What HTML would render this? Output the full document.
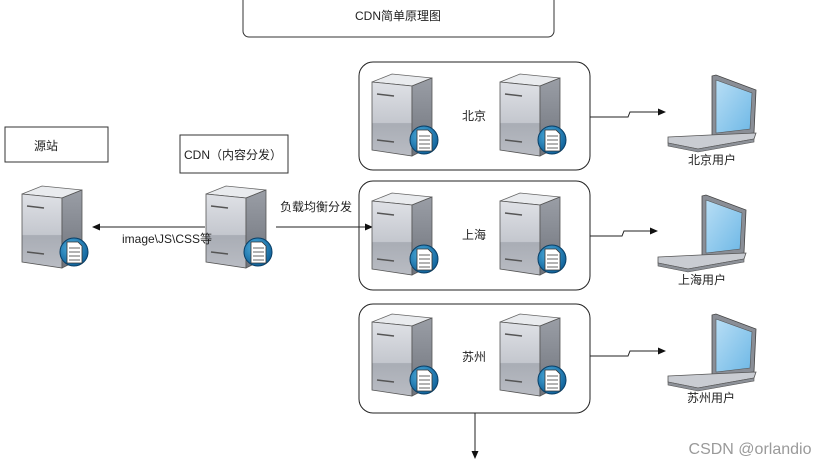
<!DOCTYPE html>
<html><head><meta charset="utf-8"><style>
html,body{margin:0;padding:0;background:#fff;}
svg text{font-family:"Liberation Sans","Noto Sans CJK SC",sans-serif;font-size:12px;fill:#222;}
</style></head><body>
<svg width="836" height="464" viewBox="0 0 836 464" xmlns="http://www.w3.org/2000/svg">
<defs>
<linearGradient id="fr" x1="0" y1="0" x2="0" y2="1"><stop offset="0" stop-color="#dfe1e6"/><stop offset="0.55" stop-color="#c4c7ce"/><stop offset="0.56" stop-color="#a9adb5"/><stop offset="1" stop-color="#b9bcc3"/></linearGradient>
<linearGradient id="sd" x1="0" y1="0" x2="0" y2="1"><stop offset="0" stop-color="#9a9ea6"/><stop offset="1" stop-color="#6f737b"/></linearGradient>
<radialGradient id="bd" cx="0.4" cy="0.35" r="0.7"><stop offset="0" stop-color="#4fb0e0"/><stop offset="1" stop-color="#0d5d95"/></radialGradient>
<linearGradient id="scr" x1="0" y1="0" x2="1" y2="1"><stop offset="0" stop-color="#b8def5"/><stop offset="1" stop-color="#6eb8e6"/></linearGradient>
<g id="srv">
<polygon points="0,8 20,0 60,4 40,12" fill="#e9ebee" stroke="#666" stroke-width="0.8"/>
<polygon points="0,8 40,12 40,82 0,76" fill="url(#fr)" stroke="#555" stroke-width="0.8"/>
<polygon points="40,12 60,4 60,72 40,82" fill="url(#sd)" stroke="#555" stroke-width="0.8"/>
<line x1="5" y1="20" x2="22" y2="22" stroke="#555" stroke-width="1.5"/>
<line x1="5" y1="66" x2="22" y2="68" stroke="#555" stroke-width="1.5"/>
<circle cx="52" cy="66" r="14" fill="url(#bd)" stroke="#0a3f66" stroke-width="1"/>
<polygon points="45,56 56,56 60,60 60,77 45,77" fill="#fff" stroke="#333" stroke-width="0.8"/>
<line x1="47" y1="62" x2="58" y2="62" stroke="#666"/><line x1="47" y1="66" x2="58" y2="66" stroke="#666"/><line x1="47" y1="70" x2="58" y2="70" stroke="#666"/><line x1="47" y1="74" x2="58" y2="74" stroke="#666"/>
</g>
<g id="lap">
<polygon points="44,1 48,0 88,15 86,58 44,62" fill="#8a8e96" stroke="#444" stroke-width="0.8"/>
<polygon points="48,5 84,18 82,54 48,58" fill="url(#scr)" stroke="#555" stroke-width="0.6"/>
<polygon points="0,62 42,60 88,58 86,64 30,74 0,68" fill="#c9ccd2" stroke="#555" stroke-width="0.8"/>
<polygon points="0,68 30,74 86,64 86,67 30,77 0,71" fill="#8d9198" stroke="#555" stroke-width="0.6"/>
</g>
<marker id="ah" markerWidth="8" markerHeight="8" refX="7" refY="4" orient="auto"><path d="M0,0.5 L8,4 L0,7.5 Z" fill="#111"/></marker>
</defs>

<rect x="243" y="-6" width="311" height="43" rx="6" fill="none" stroke="#333"/>
<text x="398" y="20" text-anchor="middle">CDN简单原理图</text>

<rect x="5" y="127" width="103" height="35" fill="none" stroke="#333"/>
<text x="46" y="150" text-anchor="middle">源站</text>
<rect x="180" y="135" width="108" height="38" fill="none" stroke="#333"/>
<text x="233" y="159" text-anchor="middle">CDN（内容分发）</text>

<use href="#srv" x="22" y="186"/>
<use href="#srv" x="206" y="186"/>
<line x1="205" y1="227" x2="93" y2="227" stroke="#222" marker-end="url(#ah)"/>
<text x="167" y="243" text-anchor="middle">image\JS\CSS等</text>
<line x1="276" y1="227" x2="372" y2="227" stroke="#222" marker-end="url(#ah)"/>
<text x="316" y="211" text-anchor="middle">负载均衡分发</text>

<rect x="359" y="62" width="231" height="108" rx="14" fill="none" stroke="#222"/>
<rect x="359" y="181" width="231" height="109" rx="14" fill="none" stroke="#222"/>
<rect x="359" y="304" width="231" height="109" rx="14" fill="none" stroke="#222"/>

<use href="#srv" x="372" y="74"/><use href="#srv" x="500" y="74"/>
<use href="#srv" x="372" y="193"/><use href="#srv" x="500" y="193"/>
<use href="#srv" x="372" y="314"/><use href="#srv" x="500" y="314"/>
<text x="474" y="120" text-anchor="middle">北京</text>
<text x="474" y="239" text-anchor="middle">上海</text>
<text x="474" y="361" text-anchor="middle">苏州</text>

<polyline points="590,117 628,117 630,112 665,112" fill="none" stroke="#222" marker-end="url(#ah)"/>
<polyline points="590,236 622,236 624,231 657,231" fill="none" stroke="#222" marker-end="url(#ah)"/>
<polyline points="590,356 628,356 630,351 665,351" fill="none" stroke="#222" marker-end="url(#ah)"/>

<use href="#lap" x="668" y="75"/>
<use href="#lap" x="658" y="195"/>
<use href="#lap" x="668" y="314"/>
<text x="712" y="164" text-anchor="middle">北京用户</text>
<text x="702" y="284" text-anchor="middle">上海用户</text>
<text x="711" y="402" text-anchor="middle">苏州用户</text>

<line x1="475" y1="413" x2="475" y2="458" stroke="#222" marker-end="url(#ah)"/>

<text x="750" y="454" text-anchor="middle" style="font-size:16px;fill:#9a9a9a">CSDN @orlandio</text>
</svg>
</body></html>
